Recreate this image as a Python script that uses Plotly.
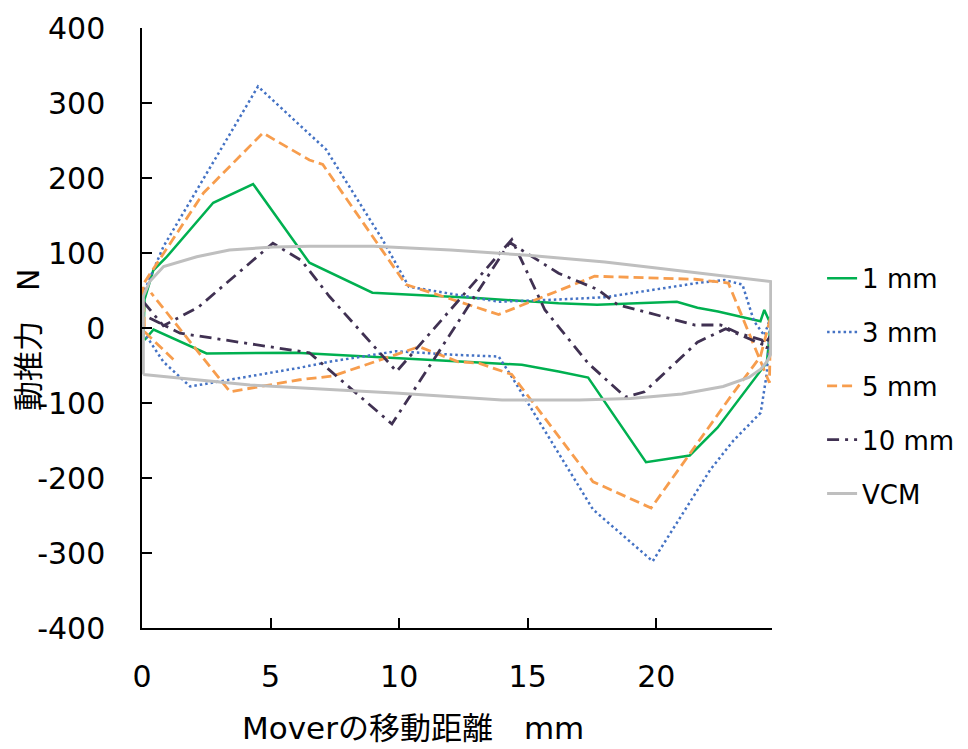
import plotly.graph_objects as go

# ---- data ----
x_1mm = [0.05, 0.1, 0.44, 0.94, 2.77, 4.32, 6.51, 8.96, 13.0, 16.2, 17.7, 20.8, 21.6, 22.4, 24.05, 24.2, 24.45, 24.3,
         22.38, 21.3, 19.6, 17.35, 16.2, 14.77, 13.1, 9.0, 6.0, 2.51, 0.45, 0.1]
y_1mm = [-14, 38, 77, 94, 167, 192, 87, 47, 40, 33, 31, 35, 27, 22, 9, 24, 5, -46,
         -133, -170, -179, -66, -58, -49, -46, -38, -33, -34, -2, -16]

x_3mm = [0.03, 0.06, 0.84, 2.13, 4.51, 7.16, 9.35, 10.38, 13.87, 16.2, 18.0, 21.6, 22.64, 23.35, 23.8, 24.2, 24.45,
         24.3, 24.06, 23.0, 22.1, 19.86, 17.54, 14.38, 13.87, 12.3, 9.87, 7.29, 6.13, 1.87, 0.83, 0.06]
y_3mm = [-15, 47, 109, 184, 322, 238, 118, 55, 35, 38, 41, 60, 64, 58, 9, -10, 15,
         -60, -113, -150, -189, -311, -242, -65, -38, -36, -31, -45, -53, -78, -45, -5]

x_5mm = [1.22, 0.1, 0.04, 2.39, 4.7, 6.51, 7.03, 10.26, 13.87, 17.6, 21.5, 22.8, 24.4, 24.45,
         24.05, 22.9, 19.8, 17.54, 14.38, 13.1, 12.3, 10.77, 7.42, 6.13, 3.42, 0.35]
y_5mm = [-42, -5, 58, 180, 260, 224, 218, 58, 18, 69, 65, 60, -73, 15,
         -38, -91, -240, -205, -62, -47, -45, -25, -64, -69, -85, 47]

x_10mm = [0.05, 0.83, 2.2, 5.09, 6.2, 7.29, 9.9, 14.38, 15.67, 17.35, 18.8, 19.54, 21.6, 22.7, 24.2, 24.45,
          24.3, 24.1, 23.2, 22.5, 21.5, 18.5, 17.74, 16.2, 14.3, 9.72, 6.51, 4.45, 1.48, 0.2]
y_10mm = [35, 3, 28, 113, 90, 42, -58, 118, 24, -47, -92, -85, -19, -1, -23, -10,
          -27, -16, -7, 4, 4, 31, 51, 73, 114, -128, -33, -22, -7, 15]

x_vcm = [0.05, 0.05, 0.3, 0.84, 2.13, 3.4, 5.1, 6.5, 9, 12, 15, 18, 20, 22, 24.45,
         24.45, 24.3, 24.06, 23.6, 22.6, 21, 19, 17, 14, 10, 7.3, 6.1, 4.2, 0.05]
y_vcm = [-62, 42, 62, 82, 95, 104, 108, 109, 109, 104, 97, 88, 80, 72, 62,
         -35, -45, -55, -66, -78, -88, -94, -96, -96, -87, -82, -80, -76, -62]

series_names = ["1 mm", "3 mm", "5 mm", "10 mm", "VCM"]
x_ticks = [0, 5, 10, 15, 20]
y_ticks = [400, 300, 200, 100, 0, -100, -200, -300, -400]
y_tick_text = ["400", "300", "200", "100", "0", "-100", "-200", "-300", "-400"]

x_title = "Moverの移動距離　mm"
y_title = "動推力　N"

FONT = "DejaVu Sans, Noto Sans CJK JP, sans-serif"

styles = [
    dict(color="#00B050", width=2.5, dash="solid"),
    dict(color="#4472C4", width=2.5, dash="2.5px,3px"),
    dict(color="#F79D4D", width=2.8, dash="10px,5px"),
    dict(color="#403152", width=2.8, dash="12px,6px,3px,6px"),
    dict(color="#BFBFBF", width=3, dash="solid"),
]
xs = [x_1mm, x_3mm, x_5mm, x_10mm, x_vcm]
ys = [y_1mm, y_3mm, y_5mm, y_10mm, y_vcm]

fig = go.Figure()
for i, (name, xv, yv, st) in enumerate(zip(series_names, xs, ys, styles)):
    fig.add_trace(go.Scatter(x=xv, y=yv, mode="lines", name=name, legendgroup=name,
                             line=st))

fig.update_layout(
    width=968, height=749,
    margin=dict(l=142, r=196, t=28, b=121, autoexpand=False),
    paper_bgcolor="white", plot_bgcolor="white",
    font=dict(family=FONT, color="black"),
    showlegend=True,
    legend=dict(x=1.0795, xanchor="left", y=0.622, yanchor="top",
                font=dict(size=26, family=FONT), traceorder="grouped",
                tracegroupgap=17, bgcolor="rgba(0,0,0,0)"),
)
fig.update_xaxes(range=[0, 24.5], tickvals=x_ticks, ticks="inside", ticklen=10, tickwidth=1.5,
                 tickcolor="black", showline=True, linecolor="black", linewidth=1.5,
                 showgrid=False, zeroline=False, tickfont=dict(size=30, family=FONT),
                 ticklabelstandoff=21)
fig.update_yaxes(range=[-400, 400], tickvals=y_ticks, ticktext=y_tick_text, ticks="inside",
                 ticklen=10, tickwidth=1.5, tickcolor="black", showline=True, linecolor="black",
                 linewidth=1.5, showgrid=False, zeroline=False, tickfont=dict(size=30, family=FONT),
                 ticklabelstandoff=29)

fig.add_annotation(text=x_title, xref="paper", yref="paper", x=(413 - 142) / 630, y=(628 - 728) / 600,
                   xanchor="center", yanchor="middle", showarrow=False, font=dict(size=31, family=FONT))
fig.add_annotation(text=y_title, xref="paper", yref="paper", x=(28 - 142) / 630, y=(628 - 340) / 600,
                   xanchor="center", yanchor="middle", textangle=-90, showarrow=False,
                   font=dict(size=30, family=FONT))

fig.write_html("out.html")
